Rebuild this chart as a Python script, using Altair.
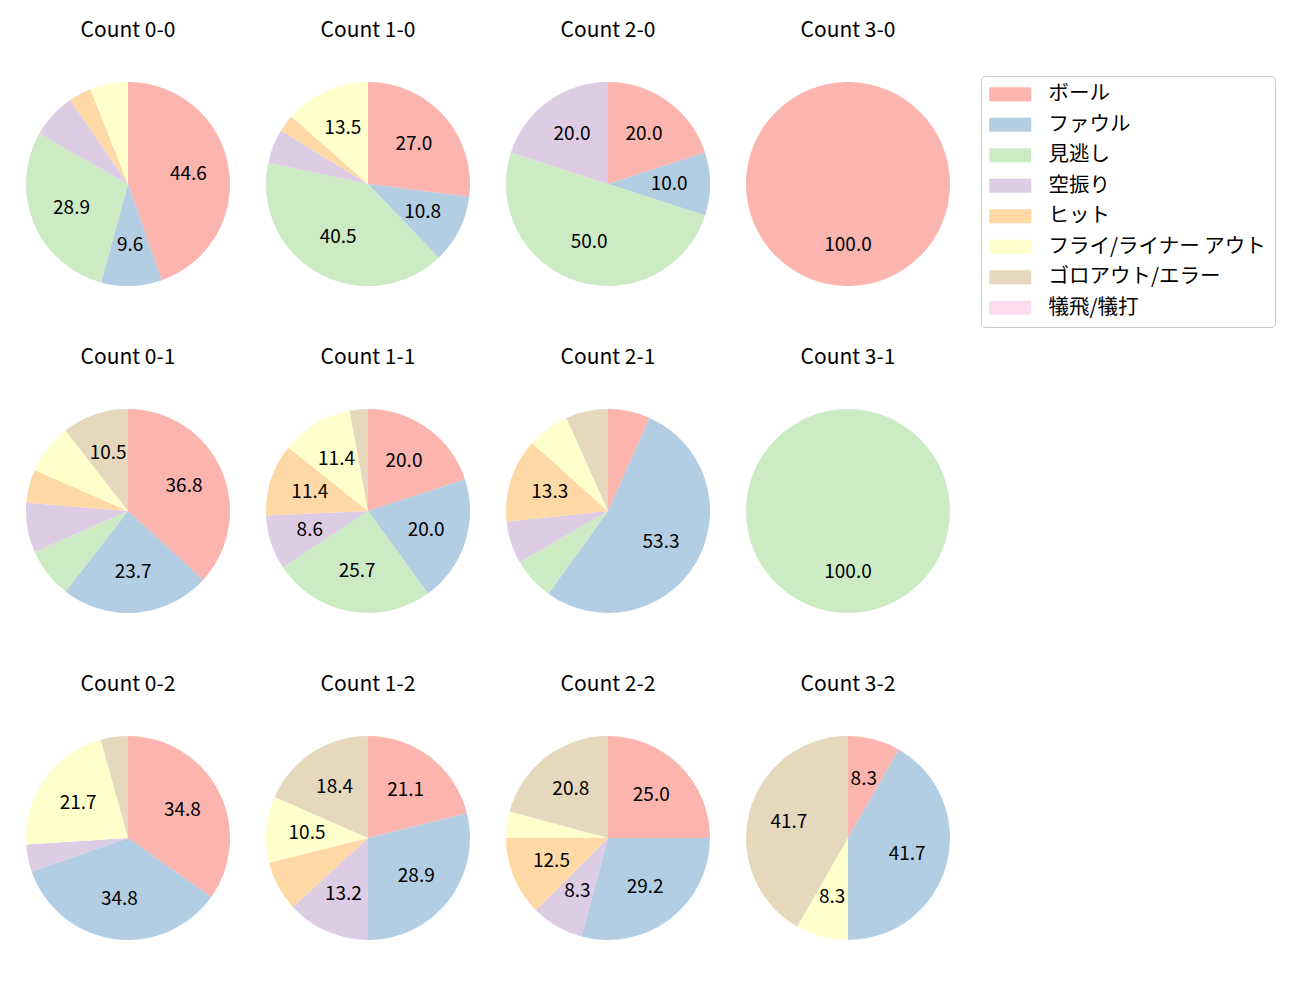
import math
import altair as alt
import pandas as pd

FONT = "Noto Sans CJK JP"

categories = ["ボール", "ファウル", "見逃し", "空振り", "ヒット",
              "フライ/ライナー アウト", "ゴロアウト/エラー", "犠飛/犠打"]
colors = ["#fbb4ae", "#b3cde3", "#ccebc5", "#decbe4", "#fed9a6",
          "#ffffcc", "#e5d8bd", "#fddaec"]

counts = ["Count 0-0", "Count 1-0", "Count 2-0", "Count 3-0",
          "Count 0-1", "Count 1-1", "Count 2-1", "Count 3-1",
          "Count 0-2", "Count 1-2", "Count 2-2", "Count 3-2"]

# percentages per category, one value per count panel (order of `counts`)
ball    = [44.6, 27.0, 20.0, 100.0, 36.8, 20.0, 6.7, 0.0, 34.8, 21.1, 25.0, 8.3]
foul    = [9.6, 10.8, 10.0, 0.0, 23.7, 20.0, 53.3, 0.0, 34.8, 28.9, 29.2, 41.7]
looking = [28.9, 40.5, 50.0, 0.0, 7.9, 25.7, 6.7, 100.0, 0.0, 0.0, 0.0, 0.0]
swing   = [7.2, 5.4, 20.0, 0.0, 7.9, 8.6, 6.7, 0.0, 4.3, 13.2, 8.3, 0.0]
hit     = [3.6, 2.7, 0.0, 0.0, 5.3, 11.4, 13.3, 0.0, 0.0, 7.9, 12.5, 0.0]
fly     = [6.0, 13.5, 0.0, 0.0, 7.9, 11.4, 6.7, 0.0, 21.7, 10.5, 4.2, 8.3]
ground  = [0.0, 0.0, 0.0, 0.0, 10.5, 2.9, 6.7, 0.0, 4.3, 18.4, 20.8, 41.7]
sac     = [0.0] * 12

series = [ball, foul, looking, swing, hit, fly, ground, sac]

rows = []
for ci, cnt in enumerate(counts):
    for k, cat in enumerate(categories):
        v = series[k][ci]
        if v > 0:
            rows.append({"count": cnt, "cat": cat, "idx": k, "pct": v})
df = pd.DataFrame(rows)

R = 102
theta_scale = alt.Scale(domain=[0, 1], range=[0, 2 * math.pi])

color = alt.Color(
    "cat:N",
    scale=alt.Scale(domain=categories, range=colors),
    legend=alt.Legend(
        title=None,
        orient="none",
        legendX=968,
        legendY=7,
        symbolType="M-3,-1H3V1H-3Z",
        symbolSize=196,
        symbolOffset=11,
        symbolStrokeWidth=0,
        symbolOpacity=1,
        labelFont=FONT,
        labelFontSize=20.5,
        labelColor="#000000",
        labelLimit=400,
        labelOffset=28,
        rowPadding=9.5,
        padding=8,
        strokeColor="#cccccc",
        fillColor="#ffffff",
        cornerRadius=4,
    ),
)

arc = alt.Chart().mark_arc(outerRadius=R, strokeWidth=0).encode(
    theta=alt.Theta("s0:Q", scale=theta_scale),
    theta2="s1:Q",
    color=color,
)

text = alt.Chart().transform_filter(alt.datum.pct >= 8).transform_calculate(
    mid="(datum.s0 + datum.s1) / 2"
).mark_text(radius=R * 0.6, font=FONT, fontSize=19, color="#000000",
            align="center", baseline="middle").encode(
    theta=alt.Theta("mid:Q", scale=theta_scale),
    text=alt.Text("pct:Q", format=".1f"),
)

chart = alt.layer(arc, text, data=df).transform_stack(
    stack="pct", as_=["s0", "s1"], groupby=["count"],
    sort=[alt.SortField("idx", order="ascending")], offset="normalize"
).properties(width=230, height=230).facet(
    facet=alt.Facet("count:N", sort=counts, title=None,
                    header=alt.Header(labelFont=FONT, labelFontSize=21,
                                      labelColor="#000000", labelPadding=28)),
    columns=4,
    spacing={"row": 48, "column": 10},
).properties(
    padding={"top": 12, "left": 5, "right": 5, "bottom": 5}
).configure_view(stroke=None)

chart.save("out.html", embed_options={"renderer": "svg", "actions": False})
